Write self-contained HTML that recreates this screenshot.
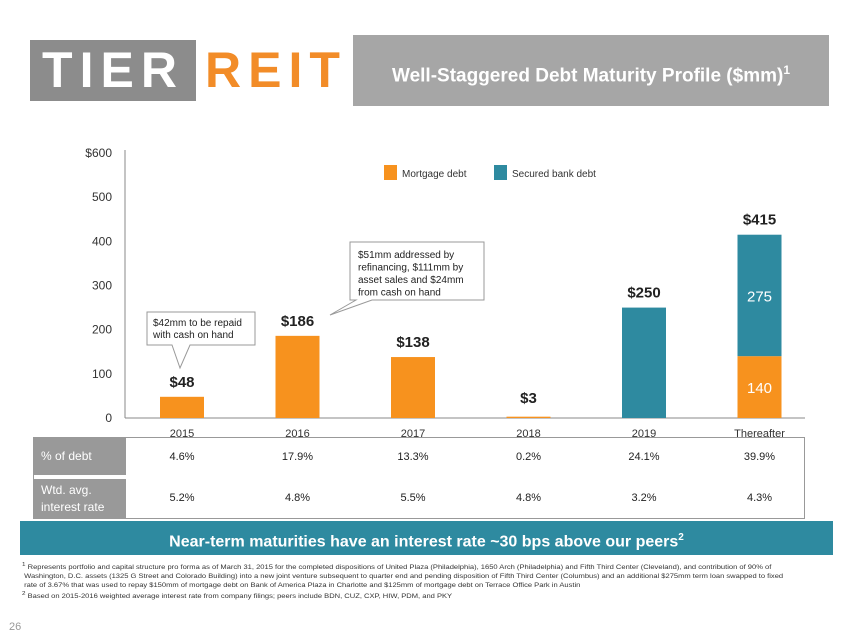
<!DOCTYPE html>
<html><head><meta charset="utf-8"><style>
body{margin:0;width:847px;height:635px;background:#fff;font-family:"Liberation Sans",sans-serif;position:relative;overflow:hidden}
.a{position:absolute}
</style></head><body>
<div class="a" style="left:30px;top:40px;width:166px;height:61px;background:#8c8c8c;color:#fff;font:bold 50px 'Liberation Sans',sans-serif;letter-spacing:7px;line-height:61px;text-align:center">TIER</div>
<div class="a" style="left:205px;top:40px;width:140px;height:61px;color:#f28c28;font:bold 50px 'Liberation Sans',sans-serif;letter-spacing:7px;line-height:61px">REIT</div>
<div class="a" style="left:353px;top:35px;width:476px;height:71px;background:#a6a6a6;color:#fff;font:bold 19px 'Liberation Sans',sans-serif;line-height:71px;text-align:center">Well-Staggered Debt Maturity Profile ($mm)<sup style="font-size:12px">1</sup></div>
<svg class="a" style="left:0;top:0" width="847" height="635" id="chart"></svg>
<div class="a" style="left:33px;top:437px;width:770px;height:80px;border:1px solid #999;font-size:12px">
<div class="a" style="left:0;top:0;width:92px;height:37px;background:#999;color:#fff;line-height:37px;padding-left:7px;box-sizing:border-box">% of debt</div>
<div class="a" style="left:0;top:41px;width:92px;height:39px;background:#999;color:#fff;line-height:17px;padding:3px 0 0 7px;box-sizing:border-box">Wtd. avg.<br>interest rate</div>
</div>
<div class="a" style="left:20px;top:521px;width:813px;height:34px;background:#2e8aa0;color:#fff;font:bold 16px 'Liberation Sans',sans-serif;line-height:34px;text-align:center">Near-term maturities have an interest rate ~30 bps above our peers<sup style="font-size:10px">2</sup></div>
<div class="a" style="left:22px;top:561px;width:680px;font-size:6.3px;line-height:9px;color:#333;transform:scaleX(1.2);transform-origin:0 0">
<div><sup>1</sup> Represents portfolio and capital structure pro forma as of March 31, 2015 for the completed dispositions of United Plaza (Philadelphia), 1650 Arch (Philadelphia) and Fifth Third Center (Cleveland), and contribution of 90% of<br>&nbsp;Washington, D.C. assets (1325 G Street and Colorado Building) into a new joint venture subsequent to quarter end and pending disposition of Fifth Third Center (Columbus) and an additional $275mm term loan swapped to fixed<br>&nbsp;rate of 3.67% that was used to repay $150mm of mortgage debt on Bank of America Plaza in Charlotte and $125mm of mortgage debt on Terrace Office Park in Austin</div>
<div><sup>2</sup> Based on 2015-2016 weighted average interest rate from company filings; peers include BDN, CUZ, CXP, HIW, PDM, and PKY</div></div>
<div class="a" style="left:9px;top:621px;font-size:11px;color:#999">26</div>
<script>
const categories=["2015","2016","2017","2018","2019","Thereafter"];
const mortgage=[48,186,138,3,0,140];
const bank=[0,0,0,0,250,275];
const totals=["$48","$186","$138","$3","$250","$415"];
const pctDebt=["4.6%","17.9%","13.3%","0.2%","24.1%","39.9%"];
const rates=["5.2%","4.8%","5.5%","4.8%","3.2%","4.3%"];
const yTicks=[0,100,200,300,400,500,600];
const ns="http://www.w3.org/2000/svg",svg=document.getElementById('chart');
const y=v=>418-v*265/600, x=i=>182+i*115.5;
function mk(t,a,txt){const e=document.createElementNS(ns,t);for(const k in a)e.setAttribute(k,a[k]);if(txt!=null)e.textContent=txt;svg.appendChild(e);return e;}
let e=mk('line',{x1:125,x2:125,y1:150,y2:418,stroke:'#888'});

e=mk('line',{x1:125,x2:805,y1:418,y2:418,stroke:'#888'});

yTicks.forEach(v=>{e=mk('text',{x:112,y:y(v)+4,'text-anchor':'end','font-size':12,fill:'#333'},v==600?'$600':v);
});
categories.forEach((c,i)=>{
 const cx=x(i);
 if(mortgage[i]>0){e=mk('rect',{x:cx-22,y:y(mortgage[i]),width:44,height:418-y(mortgage[i]),fill:'#f7921e'});
 }
 if(bank[i]>0){e=mk('rect',{x:cx-22,y:y(mortgage[i]+bank[i]),width:44,height:y(mortgage[i])-y(mortgage[i]+bank[i]),fill:'#2e8aa0'});
 }
 const top=mortgage[i]+bank[i];
 e=mk('text',{x:cx,y:Math.min(y(top)-10,403),'text-anchor':'middle','font-size':15,'font-weight':'bold',fill:'#222'},totals[i]);
 
 if(mortgage[i]>0&&bank[i]>0){
  e=mk('text',{x:cx,y:(y(0)+y(mortgage[i]))/2+6,'text-anchor':'middle','font-size':15,fill:'#fff'},mortgage[i]);
  
  e=mk('text',{x:cx,y:(y(mortgage[i])+y(top))/2+6,'text-anchor':'middle','font-size':15,fill:'#fff'},bank[i]);
  }
 e=mk('text',{x:cx,y:437,'text-anchor':'middle','font-size':11,fill:'#333'},c);
 
 e=mk('text',{x:cx,y:460,'text-anchor':'middle','font-size':11,fill:'#222'},pctDebt[i]);
 
 e=mk('text',{x:cx,y:501,'text-anchor':'middle','font-size':11,fill:'#222'},rates[i]);
 
});
e=mk('rect',{x:384,y:165,width:13,height:15,fill:'#f7921e'});
e=mk('text',{x:402,y:177,'font-size':10,fill:'#333'},'Mortgage debt');
e=mk('rect',{x:494,y:165,width:13,height:15,fill:'#2e8aa0'});
e=mk('text',{x:512,y:177,'font-size':10,fill:'#333'},'Secured bank debt');
e=mk('path',{d:'M147,312H255V345H190L180,368L172,345H147Z',fill:'#fff',stroke:'#999'});
mk('text',{x:153,y:326,'font-size':10,fill:'#222'},'$42mm to be repaid');
mk('text',{x:153,y:338,'font-size':10,fill:'#222'},'with cash on hand');
e=mk('path',{d:'M350,242H484V300H372L330,315L356,300H350Z',fill:'#fff',stroke:'#999'});
['$51mm addressed by','refinancing, $111mm by','asset sales and $24mm','from cash on hand'].forEach((t,k)=>mk('text',{x:358,y:258+k*12.5,'font-size':10,fill:'#222'},t));
</script>
</body></html>
